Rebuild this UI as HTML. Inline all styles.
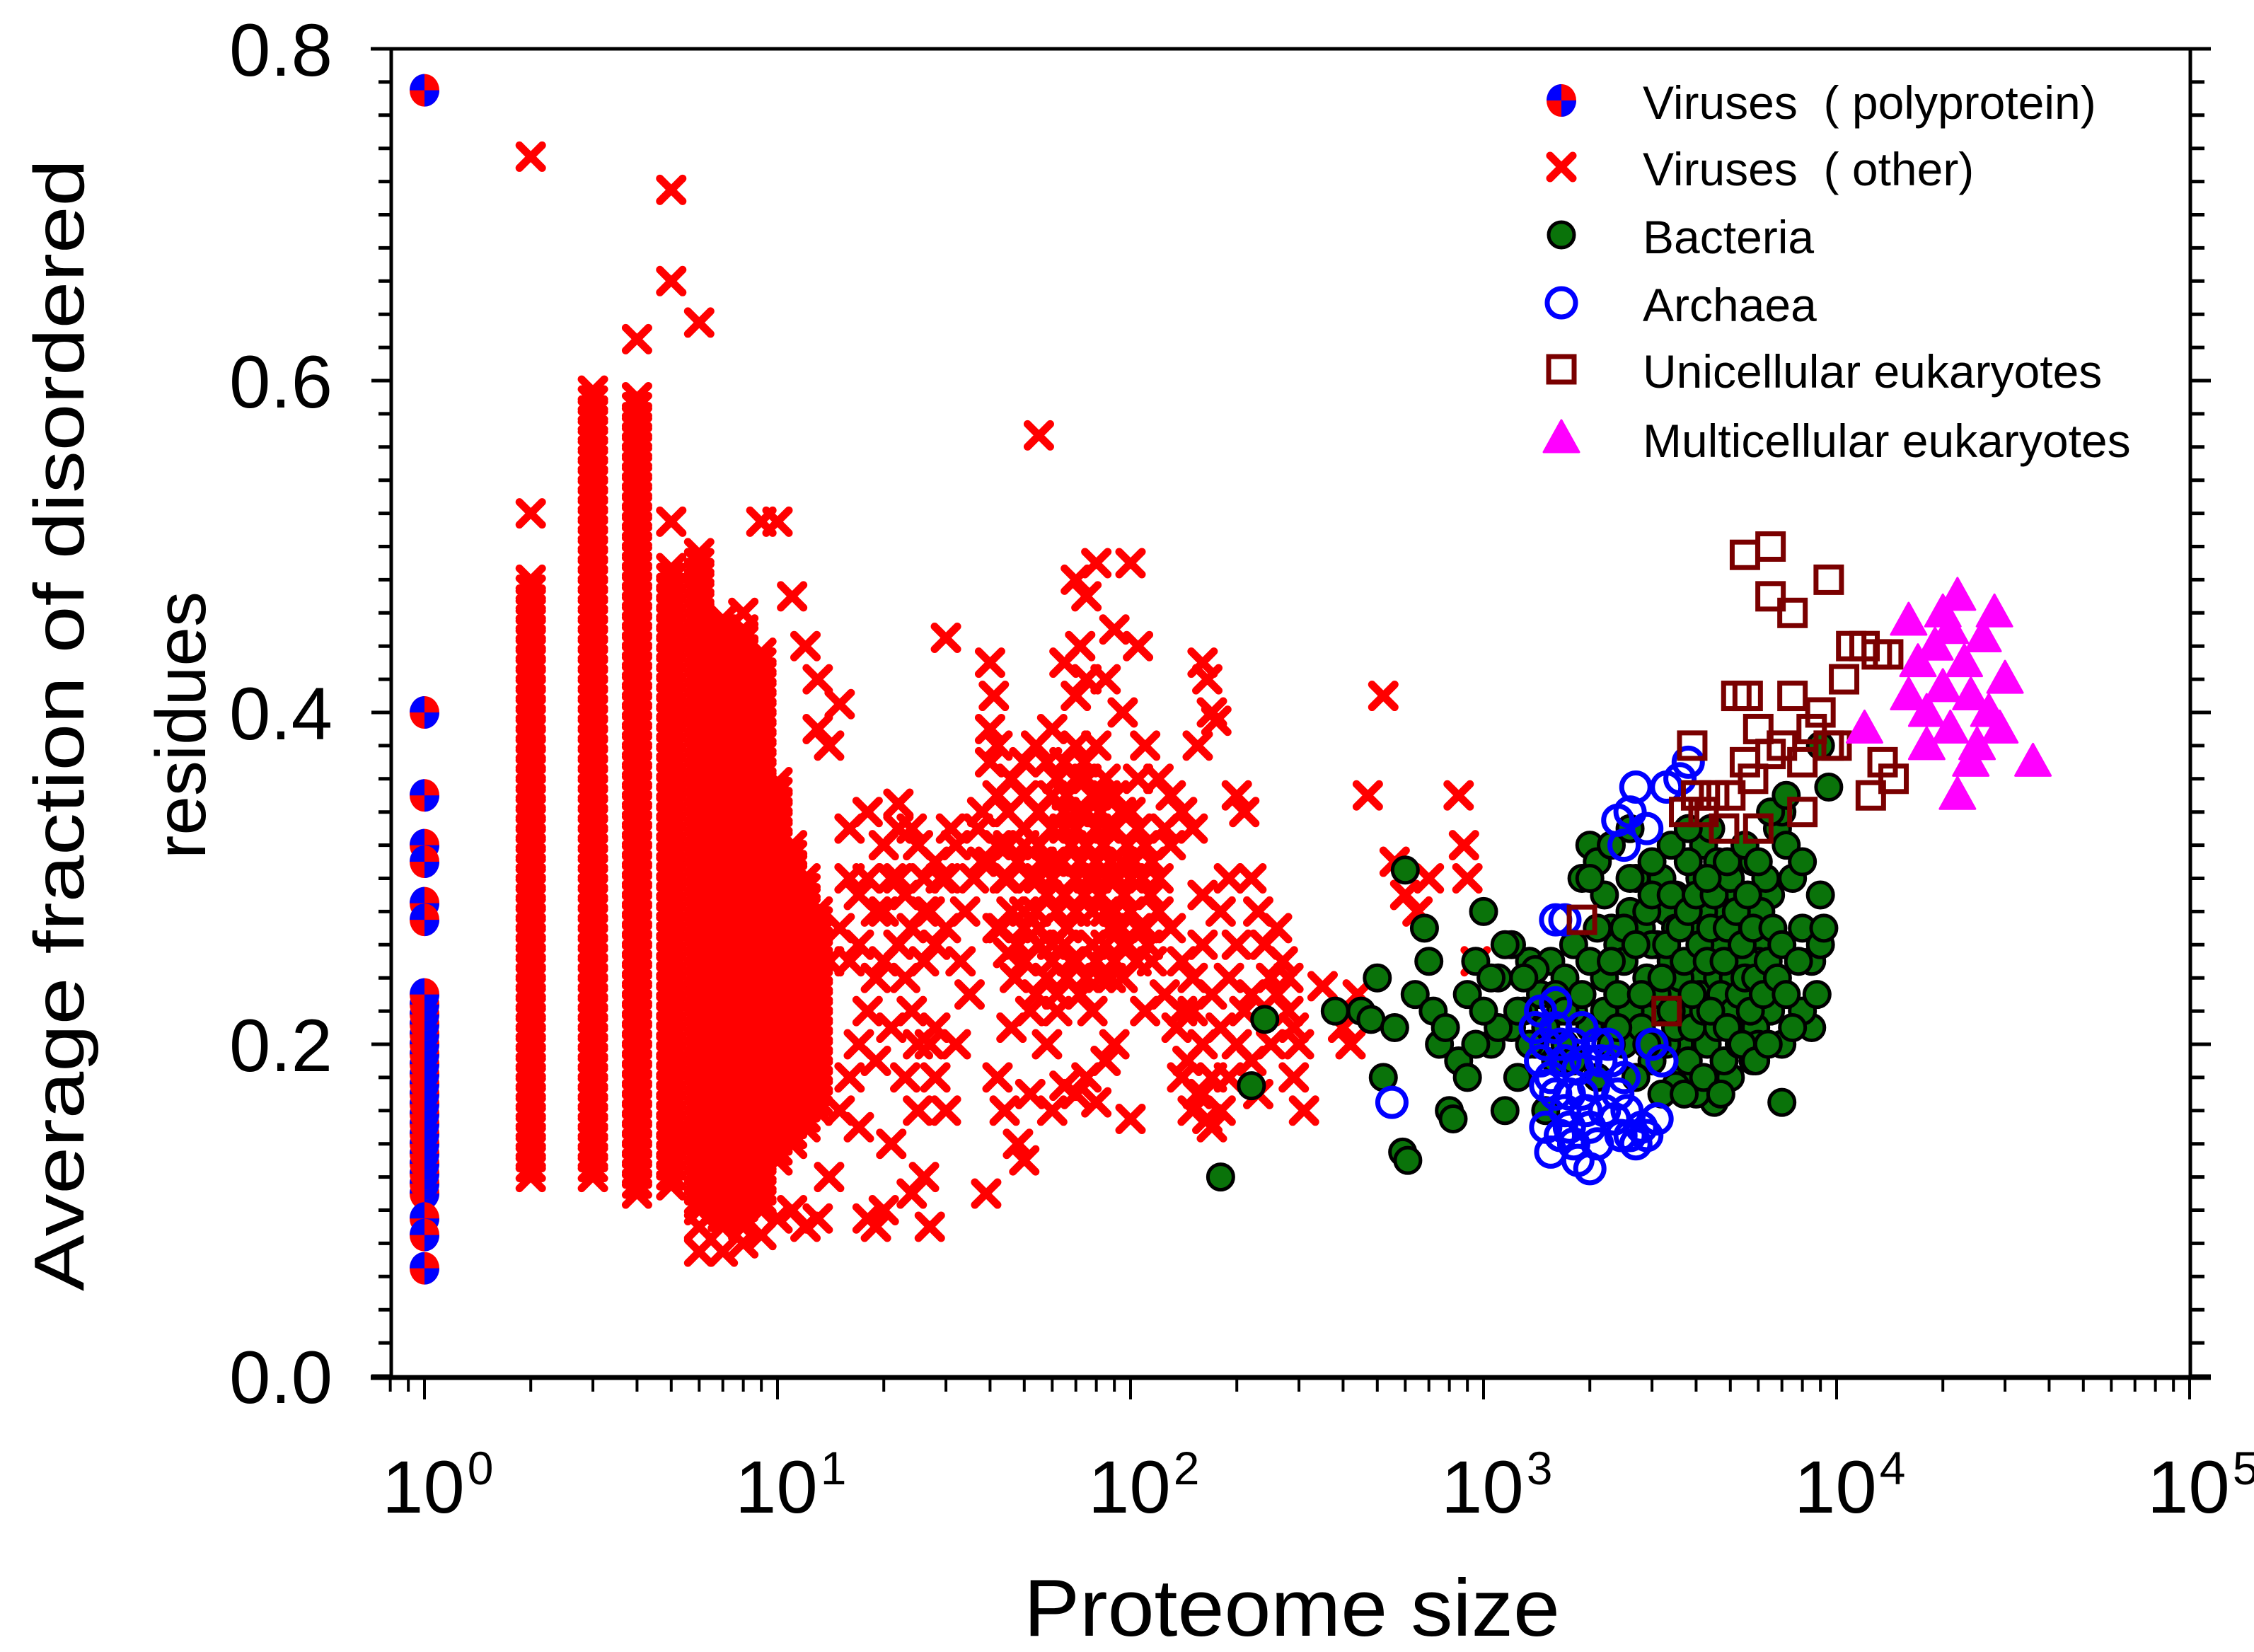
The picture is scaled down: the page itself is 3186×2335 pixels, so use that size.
<!DOCTYPE html>
<html><head><meta charset="utf-8"><style>
html,body{margin:0;padding:0;background:#fff;}
svg{display:block;font-family:"Liberation Sans",Arial,sans-serif;}
</style></head><body>
<svg id="chart" xmlns="http://www.w3.org/2000/svg" width="3186" height="2335" viewBox="0 0 3186 2335">
<rect width="3186" height="2335" fill="#fff"/>
<g id="marks"></g>
<g id="axes"></g>
<text transform="translate(118,1025) rotate(-90)" text-anchor="middle" font-size="100" textLength="1600" lengthAdjust="spacingAndGlyphs">Average fraction of disordered</text>
<text transform="translate(290,1025) rotate(-90)" text-anchor="middle" font-size="100">residues</text>
<text x="1447" y="2312" font-size="114" textLength="758" lengthAdjust="spacingAndGlyphs">Proteome size</text>
<g id="legend"></g>
</svg>
<script>
const polyY=[0.775,0.40,0.35,0.32,0.31,0.285,0.275,0.095,0.085,0.065];
const polyRangeLow=[0.11];
const polyRangeHigh=[0.235];
const colX=[2,3,4,5,6,7,8,9,10,11,12,13];
const colLow=[0.12,0.12,0.11,0.115,0.10,0.09,0.09,0.10,0.13,0.14,0.15,0.16];
const colHigh=[0.48,0.595,0.59,0.49,0.50,0.46,0.45,0.44,0.36,0.32,0.30,0.28];
const virX=[2,2,4,5,5,5,6,15,14,13,16,17,16,18,20,22,22,23,21,19,24,26,27,25,24,28,30,29,31,32,33,35,34,36,38,37,40,41,40,42,40,39,42,44,46,48,50,52,45,47,43,55,70,75,80,72,85,90,100,105,95,110,120,130,140,150,160,165,170,175,155,120,130,140,150,160,170,180,165,155,145,135,125,115,105,200,210,220,230,240,250,260,270,280,290,300,310,290,200,210,220,230,190,350,400,420,440,470,520,560,600,650,700,850,880,900,950,60,65,70,75,80,85,90,100,110,58,62,54,66,78,88,30,32,28,26,27,30,20,18,17,16,15,14,15,14,13,12,11,10,9,8,7,6,6,11,10,9,8,12,13,45,50,55,60,65,70,75,80,85,50,55,60,65,70,75,80,90,95,100,105,110,60,55,50,45,42,48,58,68,78,88,95,100,52,62,72,82,65,70,80,85,110,120,115,125,130,18,19,20,21,23,25,26,28,24,22,19,17,
38,42,46,50,54,58,62,66,70,74,78,82,86,90,94,98,40,44,48,52,56,60,64,68,72,76,80,84,88,92,96,102,108,114,42,46,50,54,58,62,66,70,74,78,82,86,90,94,98,104,112,50,55,60,65,70,75,80,85,90,95,60,65,70,75,80,85,55,50,45,100,105,60,70,75,65,
140,150,160,170,180,190,200,220,250,260,280,160,170,150,140,180,190,160,16,18,20,22,24,26,28,30,17,19,21,23,25,27];
const virY=[0.52,0.735,0.625,0.515,0.66,0.715,0.635,0.405,0.38,0.39,0.30,0.29,0.25,0.22,0.25,0.345,0.33,0.24,0.14,0.09,0.11,0.12,0.09,0.20,0.22,0.18,0.445,0.30,0.33,0.32,0.25,0.23,0.28,0.30,0.31,0.33,0.43,0.41,0.39,0.38,0.37,0.11,0.18,0.16,0.21,0.14,0.13,0.17,0.255,0.24,0.27,0.567,0.48,0.47,0.49,0.44,0.42,0.45,0.49,0.44,0.40,0.38,0.36,0.35,0.34,0.33,0.43,0.42,0.40,0.395,0.38,0.30,0.27,0.25,0.22,0.20,0.18,0.16,0.155,0.17,0.19,0.21,0.23,0.25,0.27,0.35,0.34,0.30,0.28,0.26,0.24,0.23,0.25,0.22,0.21,0.20,0.16,0.18,0.20,0.22,0.19,0.17,0.18,0.235,0.21,0.20,0.23,0.35,0.41,0.31,0.29,0.28,0.30,0.35,0.32,0.30,0.25,0.16,0.175,0.17,0.18,0.165,0.19,0.20,0.155,0.22,0.20,0.22,0.23,0.24,0.22,0.24,0.16,0.20,0.21,0.25,0.28,0.27,0.10,0.095,0.15,0.18,0.16,0.25,0.27,0.12,0.095,0.09,0.10,0.095,0.085,0.08,0.075,0.075,0.09,0.47,0.515,0.515,0.46,0.44,0.42,0.30,0.32,0.30,0.31,0.29,0.30,0.32,0.30,0.28,0.28,0.27,0.26,0.33,0.34,0.36,0.35,0.33,0.31,0.30,0.33,0.32,0.35,0.34,0.35,0.34,0.32,0.26,0.24,0.25,0.26,0.27,0.26,0.28,0.22,0.23,0.23,0.24,0.37,0.38,0.38,0.36,0.27,0.28,0.31,0.33,0.32,0.30,0.28,0.32,0.30,0.29,0.32,0.30,0.31,0.27,0.26,0.24,0.26,
0.34,0.35,0.36,0.37,0.38,0.37,0.36,0.35,0.36,0.37,0.35,0.34,0.33,0.35,0.34,0.32,0.31,0.30,0.31,0.30,0.31,0.30,0.31,0.32,0.31,0.30,0.31,0.32,0.31,0.30,0.29,0.31,0.30,0.29,0.27,0.28,0.27,0.28,0.29,0.28,0.27,0.28,0.29,0.28,0.29,0.30,0.28,0.27,0.26,0.25,0.26,0.25,0.26,0.25,0.26,0.25,0.24,0.25,0.26,0.25,0.24,0.33,0.34,0.33,0.34,0.33,0.35,0.32,0.33,0.32,0.34,0.36,0.39,0.41,0.42,0.43,
0.22,0.24,0.26,0.23,0.21,0.24,0.26,0.23,0.20,0.27,0.24,0.17,0.15,0.16,0.18,0.28,0.30,0.29,0.33,0.34,0.28,0.30,0.33,0.28,0.26,0.30,0.20,0.19,0.21,0.18,0.16,0.20];
const bacX=[180,220,240,380,450,480,500,520,560,590,610,600,640,680,700,720,750,780,800,820,850,900,950,1000,1100,1200,1050,900,1150,1250,1300,1350,1400,1450,1500,1550,1600,1650,1700,1800,1900,2000,2100,2200,2300,2400,2500,2600,2700,2800,2900,3000,3100,3200,3300,3400,3500,3600,3700,3800,3900,4000,4100,4200,4400,4600,4800,5000,5200,5400,5600,5800,6000,6200,6500,6800,7000,7200,7500,8000,8500,9000,9000,8500,7000,5000,4500,4000,3500,3000,2500,2000,1800,2200,2600,3000,3500,4000,4500,5000,5500,6000,6500,7000,8000,9500,9000,3500,3800,4200,4700,5300,5800,6300,2800,3300,3800,4300,4800,5300,5900,3100,3600,4100,4600,5100,5600,6100,2300,2100,1700,1400,1200,1050,
1500,1600,1700,1800,1900,2000,2100,2200,2300,2400,2500,2600,2700,2800,2900,3000,3100,3200,3300,3400,3500,3600,3700,3800,3900,4000,4100,4200,4300,4400,4500,4600,4700,4800,4900,5000,5100,5200,5300,5400,5500,5600,5700,5800,5900,6000,6200,6400,6600,6800,7000,7200,7500,7800,1300,1350,1250,1100,1000,950,1150,2700,3200,3700,4200,4700,2400,2900,3400,3900,4400,4900,5400,5900,6400,2000,2300,2600,3000,3400,3800,4300,4900,5500,6000,6500,7200,8000,8800,9200];
const bacY=[0.12,0.175,0.215,0.22,0.22,0.215,0.24,0.18,0.21,0.135,0.13,0.305,0.23,0.27,0.25,0.22,0.20,0.21,0.16,0.155,0.19,0.23,0.25,0.28,0.24,0.21,0.20,0.18,0.16,0.18,0.22,0.25,0.20,0.23,0.16,0.25,0.19,0.22,0.24,0.26,0.30,0.32,0.31,0.29,0.27,0.26,0.25,0.28,0.30,0.27,0.24,0.22,0.26,0.30,0.28,0.25,0.23,0.20,0.18,0.22,0.25,0.27,0.30,0.32,0.33,0.31,0.28,0.26,0.24,0.22,0.20,0.19,0.23,0.26,0.29,0.33,0.34,0.32,0.30,0.27,0.25,0.29,0.26,0.21,0.165,0.18,0.165,0.17,0.175,0.19,0.20,0.21,0.22,0.24,0.22,0.26,0.27,0.24,0.22,0.21,0.27,0.25,0.22,0.20,0.22,0.355,0.38,0.29,0.31,0.28,0.26,0.29,0.31,0.30,0.21,0.20,0.19,0.20,0.19,0.20,0.21,0.23,0.24,0.23,0.24,0.24,0.25,0.28,0.20,0.18,0.20,0.245,0.26,0.24,
0.21,0.23,0.22,0.19,0.23,0.25,0.27,0.22,0.25,0.23,0.27,0.30,0.26,0.23,0.28,0.29,0.20,0.24,0.26,0.29,0.21,0.27,0.25,0.28,0.21,0.29,0.26,0.22,0.25,0.27,0.29,0.21,0.23,0.25,0.27,0.30,0.22,0.28,0.23,0.26,0.24,0.29,0.22,0.27,0.24,0.20,0.23,0.25,0.27,0.24,0.26,0.23,0.21,0.25,0.24,0.20,0.22,0.21,0.22,0.20,0.26,0.18,0.17,0.17,0.18,0.17,0.21,0.20,0.22,0.23,0.22,0.21,0.20,0.19,0.20,0.30,0.32,0.33,0.31,0.32,0.33,0.30,0.31,0.32,0.31,0.34,0.35,0.31,0.23,0.27];
const arcX=[550,1500,1450,1600,1550,1700,1800,1900,2000,1500,1550,1700,2000,2100,1800,2200,2400,2600,2800,2700,3000,3200,2500,2300,1600,1700,2500,2600,2700,2900,3300,3600,3800,2400,1600,1900,2100,1450,1500,1650,1750,1850,1950,2050,2150,2250,2350,2450,2550,1650,1750,1850,1950,2900,3100,1400,1600];
const arcY=[0.165,0.20,0.22,0.21,0.18,0.19,0.20,0.17,0.15,0.15,0.135,0.16,0.125,0.14,0.14,0.16,0.17,0.145,0.15,0.14,0.20,0.19,0.18,0.19,0.275,0.275,0.32,0.34,0.355,0.33,0.355,0.36,0.37,0.335,0.17,0.21,0.20,0.19,0.175,0.20,0.17,0.185,0.19,0.175,0.19,0.20,0.155,0.145,0.16,0.145,0.15,0.13,0.16,0.145,0.155,0.21,0.225];
const uniX=[1900,3300,3700,4000,4200,3900,4500,5000,5500,5200,5600,6000,5800,6500,7000,7500,8000,8500,9000,9500,10000,10500,11000,12000,13000,14000,12500,13500,14500,5500,6500,6500,7500,9500,8000,6000,4800];
const uniY=[0.275,0.22,0.34,0.35,0.34,0.38,0.35,0.35,0.37,0.41,0.41,0.39,0.36,0.375,0.38,0.41,0.37,0.39,0.40,0.38,0.38,0.42,0.44,0.44,0.435,0.435,0.35,0.37,0.36,0.495,0.50,0.47,0.46,0.48,0.34,0.33,0.33];
const mulX=[12000,16000,17000,18000,19000,20000,21000,22000,23000,24000,25000,26000,27000,28000,29000,30000,22000,24000,18000,20000,36000,16000,21000];
const mulY=[0.39,0.455,0.43,0.40,0.44,0.46,0.45,0.47,0.43,0.41,0.38,0.445,0.40,0.46,0.39,0.42,0.35,0.37,0.38,0.415,0.37,0.41,0.39];
const yTicks=["0.0","0.2","0.4","0.6","0.8"];
const xTickExp=["0","1","2","3","4","5"];

const NS="http://www.w3.org/2000/svg";
const X=v=>600+499*Math.log10(v);
const Y=v=>1945-2345*v;
const marks=document.getElementById('marks');
const axes=document.getElementById('axes');
const legend=document.getElementById('legend');
function mk(tag,attrs,parent){const e=document.createElementNS(NS,tag);for(const k in attrs)e.setAttribute(k,attrs[k]);parent.appendChild(e);return e;}
function cross(cx,cy,parent){const g=mk('g',{},parent);


mk('path',{d:`M${cx-16},${cy-16}L${cx+16},${cy+16}M${cx-16},${cy+16}L${cx+16},${cy-16}`,stroke:'#f00',"stroke-width":11,"stroke-linecap":"round",fill:'none'},g);}
function poly(cx,cy,parent){const g=mk('g',{},parent);


mk('ellipse',{cx:cx,cy:cy,rx:21,ry:23,fill:'#f00'},g);
mk('path',{d:`M${cx},${cy}L${cx-21},${cy}A21 23 0 0 1 ${cx},${cy-23}Z M${cx},${cy}L${cx+21},${cy}A21 23 0 0 1 ${cx},${cy+23}Z`,fill:'#00f'},g);}
function bac(cx,cy,parent){const c=mk('circle',{cx:cx,cy:cy,r:18,fill:'#0a730a',stroke:'#000',"stroke-width":5},parent);

}
function arc(cx,cy,parent){const c=mk('circle',{cx:cx,cy:cy,r:20,fill:'none',stroke:'#00f',"stroke-width":7},parent);

}
function uni(cx,cy,parent){const c=mk('rect',{x:cx-18,y:cy-18,width:36,height:36,fill:'none',stroke:'#7a0000',"stroke-width":7},parent);

}
function mul(cx,cy,parent){const c=mk('path',{d:`M${cx},${cy-26}L${cx+25},${cy+19}L${cx-25},${cy+19}Z`,fill:'#f0f',stroke:'#f0f',"stroke-width":3,"stroke-linejoin":"round"},parent);

}

colX.forEach((xv,i)=>{for(let y=colLow[i];y<=colHigh[i]+1e-9;y+=0.006)cross(X(xv),Y(y),marks);});
virX.forEach((xv,i)=>cross(X(xv),Y(virY[i]),marks));
for(let y=polyRangeLow[0];y<=polyRangeHigh[0]+1e-9;y+=0.006)poly(X(1),Y(y),marks);
polyY.forEach(y=>poly(X(1),Y(y),marks));
bacX.forEach((xv,i)=>bac(X(xv),Y(bacY[i]),marks));
arcX.forEach((xv,i)=>arc(X(xv),Y(arcY[i]),marks));
uniX.forEach((xv,i)=>uni(X(xv),Y(uniY[i]),marks));
mulX.forEach((xv,i)=>mul(X(xv),Y(mulY[i]),marks));

const L=553,R=3096,T=69,B=1947;
let a;
a=mk('line',{x1:524,y1:B,x2:3125,y2:B,stroke:'#000',"stroke-width":7},axes);
a=mk('line',{x1:524,y1:T,x2:3125,y2:T,stroke:'#000',"stroke-width":5},axes);
a=mk('line',{x1:L,y1:T,x2:L,y2:B,stroke:'#000',"stroke-width":5},axes);
a=mk('line',{x1:R,y1:T,x2:R,y2:B,stroke:'#000',"stroke-width":5},axes);
for(let k=0;k<=40;k++){const v=k*0.02;const y=Y(v);const major=k%10===0;
mk('line',{x1:major?525:535,y1:y,x2:L,y2:y,stroke:'#000',"stroke-width":5},axes);
mk('line',{x1:R,y1:y,x2:major?3125:3116,y2:y,stroke:'#000',"stroke-width":5},axes);}
yTicks.forEach((t,i)=>{const e=mk('text',{x:470,y:Y(i*0.2)+38,"text-anchor":"end","font-size":105},axes);e.textContent=t;

});
for(let d=-1;d<5;d++){for(let m=1;m<10;m++){const v=m*Math.pow(10,d);if(v<0.78)continue;const x=X(v);
mk('line',{x1:x,y1:B,x2:x,y2:m===1?1978:1967,stroke:'#000',"stroke-width":4},axes);}}
mk('line',{x1:X(1e5),y1:B,x2:X(1e5),y2:1978,stroke:'#000',"stroke-width":4},axes);
xTickExp.forEach((ex,i)=>{const x=X(Math.pow(10,i));const e=mk('text',{x:x-60,y:2138,"font-size":105},axes);e.textContent='10';


const s=mk('tspan',{"font-size":66,dy:-40,dx:4},e);s.textContent=ex;});
const legLabels=["Viruses  ( polyprotein)","Viruses  ( other)","Bacteria","Archaea","Unicellular eukaryotes","Multicellular eukaryotes"];
const legFns=[poly,cross,bac,arc,uni,mul];
const legBase=[168,262,358,454,548,646];
legLabels.forEach((t,i)=>{const g=mk('g',{},legend);


legFns[i](2207,legBase[i]-26,g);
const e=mk('text',{x:2322,y:legBase[i],"font-size":66},g);e.textContent=t;e.setAttribute('xml:space','preserve');e.style.whiteSpace='pre';});
</script>
</body></html>
